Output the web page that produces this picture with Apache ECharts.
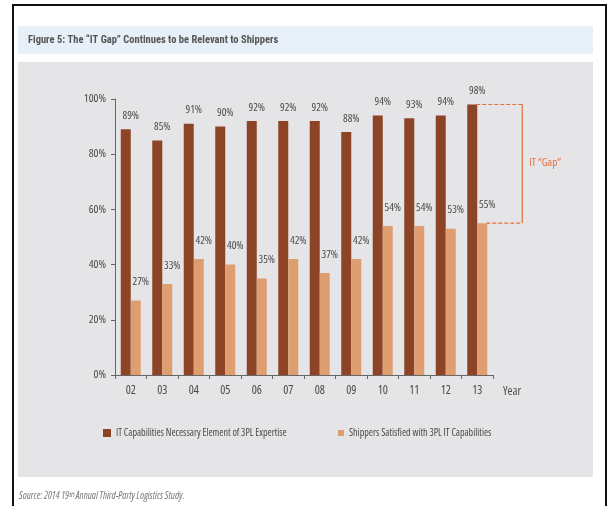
<!DOCTYPE html>
<html>
<head>
<meta charset="utf-8">
<script src="https://cdn.jsdelivr.net/npm/echarts@6/dist/echarts.min.js"></script>
<style>
  html, body { margin: 0; padding: 0; background: #ffffff; }
  #chart { width: 608px; height: 506px; }
</style>
</head>
<body>
<div id="chart"></div>
<script>
// Survey years (2002–2013) shown as two-digit labels
const years = ['02', '03', '04', '05', '06', '07', '08', '09', '10', '11', '12', '13'];
// Share of shippers saying IT capabilities are a necessary element of 3PL expertise (%)
const itNecessary = [89, 85, 91, 90, 92, 92, 92, 88, 94, 93, 94, 98];
// Share of shippers satisfied with 3PL IT capabilities (%)
const itSatisfied = [27, 33, 42, 40, 35, 42, 37, 42, 54, 54, 53, 55];
// Value-axis tick settings
const yTicks = { min: 0, max: 100, interval: 20 };

const seriesNames = [
  'IT Capabilities Necessary Element of 3PL Expertise',
  'Shippers Satisfied with 3PL IT Capabilities'
];

// narrow faces: condensed Open Sans for chart text, Roboto Condensed for headings
const CONDENSED = "'Open Sans', 'Roboto Condensed', sans-serif";
const HEAD = "'Roboto Condensed', sans-serif";
const DARK = '#8c4326';
const LIGHT = '#de9e70';
const GAP = '#e2703f';
const TEXT = '#4a4a4a';

function narrow(size, color) {
  return { color: color || TEXT, fontFamily: CONDENSED, fontStyle: 'condensed', fontSize: size };
}

const chart = echarts.init(document.getElementById('chart'), null, { renderer: 'canvas' });

const labelStyle = Object.assign({
  show: true,
  position: 'top',
  distance: 8,
  offset: [5, 0],
  formatter: '{c}%'
}, narrow(11));

const option = {
  backgroundColor: '#ffffff',
  animation: false,
  graphic: [
    // outer frame
    { type: 'rect', z: -10, shape: { x: 13, y: 5, width: 593, height: 540 },
      style: { fill: 'none', stroke: '#111', lineWidth: 2 } },
    // title band
    { type: 'rect', z: -9, shape: { x: 18, y: 26, width: 575, height: 28 },
      style: { fill: '#e7eff8' } },
    { type: 'text', z: 5, x: 28, y: 40,
      style: { text: 'Figure 5: The “IT Gap” Continues to be Relevant to Shippers',
        fill: '#555', font: 'bold 10.5px ' + HEAD, textVerticalAlign: 'middle' } },
    // chart panel
    { type: 'rect', z: -9, shape: { x: 18, y: 62, width: 575, height: 415 },
      style: { fill: '#e5e5e7' } },
    // source line
    { type: 'text', z: 5, x: 19, y: 496,
      style: { text: 'Source: 2014 19ᵗʰ Annual Third-Party Logistics Study.',
        fill: '#777', font: 'italic condensed 10px ' + CONDENSED, textVerticalAlign: 'middle' } }
  ],
  grid: { left: 115, top: 99, width: 378, height: 276, containLabel: false },
  legend: [
    { data: [seriesNames[0]], left: 98, top: 423, itemWidth: 8, itemHeight: 8, itemGap: 5, icon: 'rect',
      textStyle: narrow(10) },
    { data: [seriesNames[1]], left: 333, top: 423, itemWidth: 6, itemHeight: 6, itemGap: 5, icon: 'rect',
      textStyle: narrow(10) }
  ],
  xAxis: {
    type: 'category',
    data: years,
    name: 'Year',
    nameLocation: 'end',
    nameGap: 10,
    nameTextStyle: Object.assign(narrow(12), { verticalAlign: 'top', padding: [11, 0, 0, 0] }),
    axisLine: { show: true, lineStyle: { color: '#666', width: 1 } },
    axisTick: { show: true, length: 4, lineStyle: { color: '#666' } },
    axisLabel: Object.assign(narrow(12), { margin: 10 }),
    splitLine: { show: false }
  },
  yAxis: {
    type: 'value',
    min: yTicks.min,
    max: yTicks.max,
    interval: yTicks.interval,
    axisLine: { show: true, lineStyle: { color: '#666', width: 1 } },
    axisTick: { show: true, length: 4, lineStyle: { color: '#666' } },
    axisLabel: Object.assign(narrow(11.5), { margin: 9, formatter: '{value}%' }),
    splitLine: { show: false }
  },
  series: [
    { name: seriesNames[0], type: 'bar', data: itNecessary, barWidth: 10, barGap: '0%',
      itemStyle: { color: DARK }, label: labelStyle },
    { name: seriesNames[1], type: 'bar', data: itSatisfied, barWidth: 10, barGap: '0%',
      itemStyle: { color: LIGHT }, label: Object.assign({}, labelStyle, { distance: 13 }) }
  ]
};

chart.setOption(option);

// IT "Gap" bracket for the latest year, positioned from the data values
const lastIdx = years.length - 1;
const last = years[lastIdx];
const pTop = chart.convertToPixel({ gridIndex: 0 }, [last, itNecessary[lastIdx]]);
const pBot = chart.convertToPixel({ gridIndex: 0 }, [last, itSatisfied[lastIdx]]);
const xRight = pTop[0] + 45;
chart.setOption({
  graphic: option.graphic.concat([
    { type: 'line', z: 10, shape: { x1: pTop[0] - 1, y1: pTop[1], x2: xRight, y2: pTop[1] },
      style: { stroke: GAP, lineWidth: 1.2, lineDash: [4, 2] } },
    { type: 'line', z: 10, shape: { x1: pBot[0] + 9, y1: pBot[1], x2: xRight, y2: pBot[1] },
      style: { stroke: GAP, lineWidth: 1.2, lineDash: [4, 2] } },
    { type: 'line', z: 10, shape: { x1: xRight, y1: pTop[1], x2: xRight, y2: pBot[1] },
      style: { stroke: GAP, lineWidth: 1.2 } },
    { type: 'text', z: 10, x: xRight + 7, y: (pTop[1] + pBot[1]) / 2 - 1,
      style: { text: 'IT “Gap”', fill: GAP, font: 'condensed 11px ' + CONDENSED, textVerticalAlign: 'middle' } }
  ])
});
</script>
</body>
</html>
